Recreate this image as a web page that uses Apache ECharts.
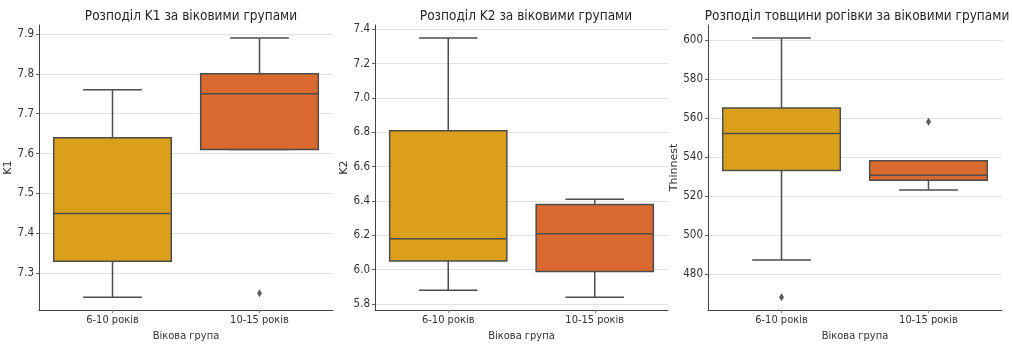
<!DOCTYPE html>
<html>
<head>
<meta charset="utf-8">
<title>Розподіл за віковими групами</title>
<script src="https://cdn.jsdelivr.net/npm/echarts@6/dist/echarts.min.js"></script>
<style>
  html, body { margin: 0; padding: 0; background: #ffffff; }
  #chart { width: 1013px; height: 347px; }
</style>
</head>
<body>
<div id="chart"></div>
<script>
// Age groups on the x axis
const ageGroups = ['6-10 років', '10-15 років'];

// Box statistics per group: [lower whisker, Q1, median, Q3, upper whisker]
const k1Stats = [
  [7.24, 7.33, 7.45, 7.64, 7.76],
  [7.61, 7.61, 7.75, 7.80, 7.89]
];
const k2Stats = [
  [5.88, 6.05, 6.18, 6.81, 7.35],
  [5.84, 5.99, 6.21, 6.38, 6.41]
];
const thinStats = [
  [487, 533, 552, 565, 601],
  [523, 528, 530.5, 538, 538]
];

// Outliers: [group index, value]
const k1Outliers = [[1, 7.25]];
const k2Outliers = [];
const thinOutliers = [[0, 468], [1, 558]];

// Panel texts
const panelTitles = [
  'Розподіл K1 за віковими групами',
  'Розподіл K2 за віковими групами',
  'Розподіл товщини рогівки за віковими групами'
];
const yNames = ['K1', 'K2', 'Thinnest'];
const xName = 'Вікова група';

// Styling
const groupFills = ['#dba01b', '#d9692f'];
const lineColor = '#4d4d4d';
const font = '"DejaVu Sans Condensed", "DejaVu Sans", sans-serif';
const fontRegular = '"DejaVu Sans", sans-serif';
const textColor = '#333333';

const panels = [
  { stats: k1Stats, outliers: k1Outliers, left: 39, right: 333, titleX: 186, nameGap: 21, split: 7 },
  { stats: k2Stats, outliers: k2Outliers, left: 375, right: 668, titleX: 521, nameGap: 21, split: 8 },
  { stats: thinStats, outliers: thinOutliers, left: 708, right: 1002, titleX: 852, nameGap: 22, split: 7 }
];

// Value range with a 5% margin on each side
function paddedRange(stats, outliers) {
  const vals = [];
  stats.forEach(s => vals.push(...s));
  outliers.forEach(o => vals.push(o[1]));
  const lo = Math.min(...vals), hi = Math.max(...vals);
  const pad = (hi - lo) * 0.05;
  return [lo - pad, hi + pad];
}

function renderBox(params, api) {
  const cat = api.value(0);
  const pLo = api.coord([cat, api.value(1)]);
  const pQ1 = api.coord([cat, api.value(2)]);
  const pMd = api.coord([cat, api.value(3)]);
  const pQ3 = api.coord([cat, api.value(4)]);
  const pHi = api.coord([cat, api.value(5)]);
  const band = api.size([1, 0])[0];
  const bw = band * 0.8;
  const cw = band * 0.4;
  const x = pMd[0];
  const lineStyle = { stroke: lineColor, lineWidth: 1.5 };
  const fill = groupFills[params.dataIndex % groupFills.length];
  return {
    type: 'group',
    children: [
      { type: 'line', shape: { x1: x, y1: pQ3[1], x2: x, y2: pHi[1] }, style: lineStyle },
      { type: 'line', shape: { x1: x, y1: pQ1[1], x2: x, y2: pLo[1] }, style: lineStyle },
      { type: 'line', shape: { x1: x - cw / 2, y1: pHi[1], x2: x + cw / 2, y2: pHi[1] }, style: lineStyle },
      { type: 'line', shape: { x1: x - cw / 2, y1: pLo[1], x2: x + cw / 2, y2: pLo[1] }, style: lineStyle },
      {
        type: 'rect',
        shape: { x: x - bw / 2, y: pQ3[1], width: bw, height: pQ1[1] - pQ3[1] },
        style: { fill: fill, stroke: lineColor, lineWidth: 1.5 }
      },
      { type: 'line', shape: { x1: x - bw / 2, y1: pMd[1], x2: x + bw / 2, y2: pMd[1] }, style: lineStyle }
    ]
  };
}

const grids = [], xAxes = [], yAxes = [], series = [], titles = [];

panels.forEach((p, i) => {
  const range = paddedRange(p.stats, p.outliers);
  grids.push({ left: p.left, width: p.right - p.left, top: 25, height: 286 });
  titles.push({
    text: panelTitles[i],
    left: p.titleX,
    top: 4,
    textAlign: 'center',
    textStyle: { fontFamily: font, fontSize: 13.5, fontWeight: 'normal', color: '#262626' }
  });
  xAxes.push({
    type: 'category',
    gridIndex: i,
    data: ageGroups,
    boundaryGap: true,
    name: xName,
    nameLocation: 'middle',
    nameGap: 18,
    nameTextStyle: { fontFamily: font, fontSize: 11, color: textColor },
    axisLine: { lineStyle: { color: '#444444', width: 1 } },
    axisTick: { show: true, alignWithLabel: true, length: 3, lineStyle: { color: '#888888' } },
    axisLabel: { fontFamily: font, fontSize: 11, color: textColor, margin: 5 },
    splitLine: { show: false }
  });
  yAxes.push({
    type: 'value',
    gridIndex: i,
    min: range[0],
    max: range[1],
    splitNumber: p.split,
    name: yNames[i],
    nameLocation: 'middle',
    nameGap: p.nameGap,
    nameTextStyle: { fontFamily: fontRegular, fontSize: 11, color: textColor },
    axisLine: { show: true, lineStyle: { color: '#444444', width: 1 } },
    axisTick: { show: true, length: 3, lineStyle: { color: '#666666' } },
    axisLabel: {
      fontFamily: font, fontSize: 11.5, color: textColor, margin: 5,
      showMinLabel: false, showMaxLabel: false,
      formatter: v => (i === 2 ? String(Math.round(v)) : v.toFixed(1))
    },
    splitLine: { show: true, showMinLine: false, showMaxLine: false, lineStyle: { color: '#e3e3e3', width: 1 } }
  });
  series.push({
    type: 'custom',
    xAxisIndex: i,
    yAxisIndex: i,
    renderItem: renderBox,
    encode: { x: 0, y: [1, 2, 3, 4, 5] },
    data: p.stats.map((s, k) => [k].concat(s)),
    z: 3
  });
  series.push({
    type: 'scatter',
    xAxisIndex: i,
    yAxisIndex: i,
    symbol: 'diamond',
    symbolSize: [5, 8],
    itemStyle: { color: '#333333' },
    data: p.outliers,
    z: 4
  });
});

const chart = echarts.init(document.getElementById('chart'), null, { renderer: 'canvas' });
chart.setOption({
  backgroundColor: '#ffffff',
  animation: false,
  title: titles,
  grid: grids,
  xAxis: xAxes,
  yAxis: yAxes,
  series: series
});
</script>
</body>
</html>
